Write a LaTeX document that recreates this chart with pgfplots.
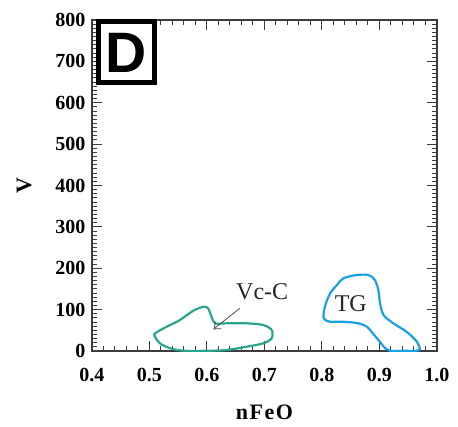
\documentclass[border=0pt]{standalone}
\usepackage{pgfplots}
\pgfplotsset{compat=1.18}
\usepackage{fontspec}
\setmainfont{Liberation Serif}
\newfontfamily\sansfont{Liberation Sans}
\usetikzlibrary{arrows.meta}
\definecolor{vcgreen}{RGB}{40,165,140}
\definecolor{tgblue}{RGB}{25,160,230}
\definecolor{axgray}{RGB}{60,60,60}
\begin{document}
\begin{tikzpicture}
\useasboundingbox (-92bp,-76bp) rectangle (366bp,351bp);
\begin{axis}[
  name=ax,
  at={(0,0)}, anchor=south west,
  scale only axis, width=345bp, height=331bp,
  xmin=0.4, xmax=1.0, ymin=0, ymax=800,
  xtick distance=0.1, minor x tick num=4,
  ytick distance=100, minor y tick num=9,
  tick align=inside,
  major tick length=10bp, minor tick length=5bp,
  axis line style={draw=axgray, line width=1.2bp},
  every tick/.style={draw=axgray, line width=1bp},
  /pgf/number format/assume math mode=true,
  tick label style={font=\fontsize{20bp}{20bp}\selectfont\bfseries},
  xticklabel style={anchor=center, yshift=-24bp, /pgf/number format/.cd, fixed, fixed zerofill, precision=1},
  yticklabel style={anchor=east, xshift=-3bp},
  xlabel={n\kern1.5bp F\kern1.5bp e\kern1.5bp O},
  ylabel={V},
  label style={font=\fontsize{22bp}{22bp}\selectfont\bfseries},
  xlabel style={at={(rel axis cs:0.5,0)}, anchor=center, yshift=-61bp},
  ylabel style={at={(rel axis cs:0,0.5)}, anchor=center, rotate=0, yshift=68bp},
]
% Vc-C field
\addplot[vcgreen, line width=2.2bp, smooth cycle, tension=0.5] coordinates {
  (0.5096,42.8) (0.530,58.7) (0.553,74.9) (0.576,97.3) (0.594,107) (0.602,103)
  (0.608,82.9) (0.614,66.9) (0.634,66.9) (0.669,66.9) (0.698,62.8) (0.7125,50.7)
  (0.7125,30.7) (0.698,18.6) (0.669,10.4) (0.634,2.4) (0.5995,0.5) (0.559,0.7)
  (0.536,6.5) (0.518,18.6) (0.5096,34.5)
};
% TG field
\addplot[tgblue, line width=2.2bp, smooth cycle, tension=0.5] coordinates {
  (0.837,175.6) (0.860,183.6) (0.881,183.6) (0.892,171.5) (0.898,147.3) (0.901,115.2)
  (0.907,87) (0.924,67) (0.947,46.6) (0.965,22.5) (0.970,4) (0.962,0.5)
  (0.940,0.5) (0.918,0.5) (0.910,6.5) (0.898,26.6) (0.886,46.6) (0.878,58.7)
  (0.863,67) (0.837,70.8) (0.814,70.8) (0.803,79) (0.805,107) (0.814,139) (0.826,159.4)
};
% arrow
\addplot[draw=black!70, line width=0.8bp, -{Straight Barb[length=6bp,width=9bp]}] coordinates {
  (0.657,103) (0.611,52.4)
};
\node[font=\fontsize{24bp}{24bp}\selectfont, text=black!85] at (axis cs:0.696,143) {Vc-C};
\node[font=\fontsize{24bp}{24bp}\selectfont, text=black!85] at (axis cs:0.850,113.5) {TG};
\end{axis}
\node[draw=black, line width=5bp, fill=white, minimum width=56bp, minimum height=61bp,
  inner sep=0pt, anchor=north west, font=\sansfont\fontsize{57bp}{57bp}\selectfont\bfseries]
  at ([xshift=3.5bp, yshift=0.5bp]ax.north west) {D};
\end{tikzpicture}
\end{document}
